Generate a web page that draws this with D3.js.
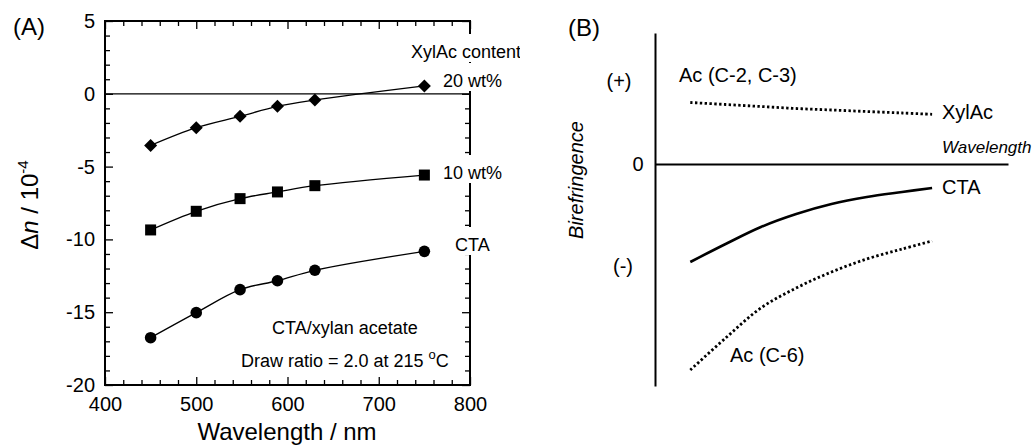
<!DOCTYPE html>
<html>
<head>
<meta charset="utf-8">
<script src="https://cdn.jsdelivr.net/npm/d3@7"></script>
<style>
	body { margin: 0; background: #fff; position: relative; width: 1033px; height: 447px; overflow: hidden; }
	svg { position: absolute; top: 0; font-family: "Liberation Sans", Arial, sans-serif; }
	.curve { fill: none; stroke: #000; }
	.tick text { font-size: 20px; fill: #000; }
</style>
</head>
<body>
<script>
// panel A data (birefringence x 10^4)
var wavelengths = [450, 500, 548, 589, 630, 750];
var xyl20 = [-3.55, -2.33, -1.55, -0.86, -0.43, 0.54];
var xyl10 = [-9.35, -8.07, -7.2, -6.74, -6.31, -5.58];
var cta = [-16.75, -15.03, -13.45, -12.84, -12.12, -10.82];
var xTicksA = [400, 500, 600, 700, 800];
var yTicksA = [-20, -15, -10, -5, 0, 5];

// panel B data (schematic, arbitrary units)
var waveB = [1, 2, 3, 4, 5, 6, 7, 7.85];
var xylacB = [0.615, 0.595, 0.575, 0.555, 0.54, 0.525, 0.51, 0.497];
var ctaB = [-0.98, -0.8, -0.63, -0.5, -0.4, -0.33, -0.28, -0.24];
var c6B = [-2.06, -1.74, -1.44, -1.24, -1.08, -0.95, -0.85, -0.77];

// ---------- panel B (own svg) ----------
var svgB = d3.select("body").append("svg")
	.style("left", "520px")
	.attr("width", 513)
	.attr("height", 447)
	.append("g")
	.attr("transform", "translate(-520,0)");

var xB = d3.scaleLinear().domain([0, 10]).range([655, 1008]);
var yB = d3.scaleLinear().domain([-2.22, 1.31]).range([386, 33]);

svgB.append("g").attr("transform", "translate(" + xB(0) + ",0)")
	.call(d3.axisLeft(yB).tickValues([]).tickSizeOuter(0))
	.select(".domain").attr("stroke-width", 2);
svgB.append("g").attr("transform", "translate(0," + yB(0) + ")")
	.call(d3.axisBottom(xB).tickValues([]).tickSizeOuter(0))
	.select(".domain").attr("stroke-width", 1.8);

var lineB = d3.line()
	.x(function(d) { return xB(d[0]); })
	.y(function(d) { return yB(d[1]); })
	.curve(d3.curveCatmullRom);

var seriesB = [
	{v: xylacB, dash: "2.4 2.4"},
	{v: ctaB, dash: null},
	{v: c6B, dash: "2.4 2.4"}
];
seriesB.forEach(function(s) {
	var pts = waveB.map(function(w, i) { return [w, s.v[i]]; });
	svgB.append("path").datum(pts)
		.attr("class", "curve")
		.attr("stroke-width", s.dash ? 2.8 : 2.6)
		.attr("stroke-dasharray", s.dash)
		.attr("d", lineB);
});

svgB.append("text").attr("x", 568).attr("y", 36).attr("font-size", 24).text("(B)");

var labelsB = [
	{t: "Ac (C-2, C-3)", x: 679, y: 82},
	{t: "XylAc", x: 942, y: 119},
	{t: "CTA", x: 942, y: 194},
	{t: "Ac (C-6)", x: 730, y: 362}
];
labelsB.forEach(function(l) {
	svgB.append("text").attr("x", l.x).attr("y", l.y).attr("font-size", 20).text(l.t);
});

svgB.append("text").attr("x", 942).attr("y", 153)
	.attr("font-size", 17).attr("font-style", "italic").text("Wavelength");

[["0", 638, 171], ["(+)", 619, 88], ["(-)", 623, 273]].forEach(function(l) {
	svgB.append("text").attr("x", l[1]).attr("y", l[2])
		.attr("font-size", 20).attr("text-anchor", "middle").text(l[0]);
});

svgB.append("text")
	.attr("transform", "translate(583,180) rotate(-90)")
	.attr("text-anchor", "middle")
	.attr("font-size", 20).attr("font-style", "italic")
	.text("Birefringence");

// ---------- panel A (own svg) ----------
var svg = d3.select("body").append("svg")
	.style("left", "0px")
	.attr("width", 520)
	.attr("height", 447);

var x = d3.scaleLinear().domain([400, 800]).range([105, 470]);
var y = d3.scaleLinear().domain([-20, 5]).range([385, 21]);

var minorX = d3.range(400, 801, 20).filter(function(d) { return d % 100 != 0; });
var minorY = d3.range(-20, 6, 1).filter(function(d) { return d % 5 != 0; });

function clean(g) {
	g.select(".domain").remove();
	g.selectAll(".tick line").attr("stroke", "#000").attr("stroke-width", 1.3);
}
function blank() { return ""; }

svg.append("g").attr("transform", "translate(0,385)")
	.call(d3.axisBottom(x).tickValues(xTicksA).tickSize(-8).tickPadding(12).tickFormat(function(d) { return d; }))
	.call(clean);
svg.append("g").attr("transform", "translate(0,385)")
	.call(d3.axisBottom(x).tickValues(minorX).tickSize(-5).tickFormat(blank))
	.call(clean);
svg.append("g").attr("transform", "translate(0,21)")
	.call(d3.axisTop(x).tickValues(xTicksA).tickSize(-8).tickFormat(blank))
	.call(clean);
svg.append("g").attr("transform", "translate(0,21)")
	.call(d3.axisTop(x).tickValues(minorX).tickSize(-5).tickFormat(blank))
	.call(clean);
svg.append("g").attr("transform", "translate(105,0)")
	.call(d3.axisLeft(y).tickValues(yTicksA).tickSize(-8).tickPadding(10).tickFormat(function(d) { return String(d); }))
	.call(clean);
svg.append("g").attr("transform", "translate(105,0)")
	.call(d3.axisLeft(y).tickValues(minorY).tickSize(-5).tickFormat(blank))
	.call(clean);
svg.append("g").attr("transform", "translate(470,0)")
	.call(d3.axisRight(y).tickValues(yTicksA).tickSize(-8).tickFormat(blank))
	.call(clean);
svg.append("g").attr("transform", "translate(470,0)")
	.call(d3.axisRight(y).tickValues(minorY).tickSize(-5).tickFormat(blank))
	.call(clean);

// frame as a path through the scales
var frame = svg.append("path")
	.attr("d", "M" + x(400) + "," + y(5) + "H" + x(800) + "V" + y(-20) + "H" + x(400) + "Z")
	.attr("fill", "none").attr("stroke", "#000").attr("stroke-width", 2);

var seriesA = [
	{v: xyl20, shape: "diamond"},
	{v: xyl10, shape: "square"},
	{v: cta, shape: "circle"}
];

var lineA = d3.line()
	.x(function(d) { return x(d[0]); })
	.y(function(d) { return y(d[1]); })
	.curve(d3.curveCatmullRom);

seriesA.forEach(function(s) {
	var pts = wavelengths.map(function(w, i) { return [w, s.v[i]]; });
	svg.append("path").datum(pts)
		.attr("class", "curve")
		.attr("stroke-width", 1.3)
		.attr("d", lineA);

	var mg = svg.append("g").attr("fill", "#000");
	pts.forEach(function(p) {
		var cx = x(p[0]), cy = y(p[1]);
		if (s.shape == "diamond") {
			mg.append("path")
				.attr("d", "M" + cx + "," + (cy - 6.5) + "L" + (cx + 6.5) + "," + cy + "L" + cx + "," + (cy + 6.5) + "L" + (cx - 6.5) + "," + cy + "Z");
		} else if (s.shape == "square") {
			mg.append("rect").attr("x", cx - 5.5).attr("y", cy - 5.5).attr("width", 11).attr("height", 11);
		} else {
			mg.append("circle").attr("cx", cx).attr("cy", cy).attr("r", 5.8);
		}
	});
});

// labels on the right hide the frame behind them
var labelsA = [
	{t: "XylAc content", x: 411, y: 58},
	{t: "20 wt%", x: 443, y: 87},
	{t: "10 wt%", x: 443, y: 179},
	{t: "CTA", x: 455, y: 251}
];
labelsA.forEach(function(l) {
	var bg = svg.append("rect").attr("fill", "#fff");
	var t = svg.append("text")
		.attr("x", l.x).attr("y", l.y)
		.attr("font-size", 18)
		.text(l.t);
	var b = t.node().getBBox();
	bg.attr("x", b.x - 3).attr("y", b.y - 8)
		.attr("width", b.width + 6).attr("height", b.height + 8);
});

// zero line
svg.append("line")
	.attr("x1", x(400)).attr("x2", x(800))
	.attr("y1", y(0)).attr("y2", y(0))
	.attr("stroke", "#000").attr("stroke-width", 1.2);

svg.append("text").attr("x", 272).attr("y", 334).attr("font-size", 18).text("CTA/xylan acetate");
var dr = svg.append("text").attr("x", 241).attr("y", 367).attr("font-size", 18);
dr.append("tspan").text("Draw ratio = 2.0 at 215 ");
dr.append("tspan").attr("font-size", 13).attr("dy", -8).text("o");
dr.append("tspan").attr("dy", 8).text("C");

svg.append("text").attr("x", 13).attr("y", 35).attr("font-size", 24).text("(A)");

svg.append("text").attr("x", 287).attr("y", 440)
	.attr("font-size", 24).attr("text-anchor", "middle")
	.text("Wavelength / nm");

var yl = svg.append("text")
	.attr("transform", "translate(38,205) rotate(-90)")
	.attr("text-anchor", "middle")
	.attr("font-size", 24);
yl.append("tspan").text("Δ");
yl.append("tspan").attr("font-style", "italic").text("n");
yl.append("tspan").text(" / 10");
yl.append("tspan").attr("font-size", 15).attr("dy", -10).text("-4");
</script>
</body>
</html>
